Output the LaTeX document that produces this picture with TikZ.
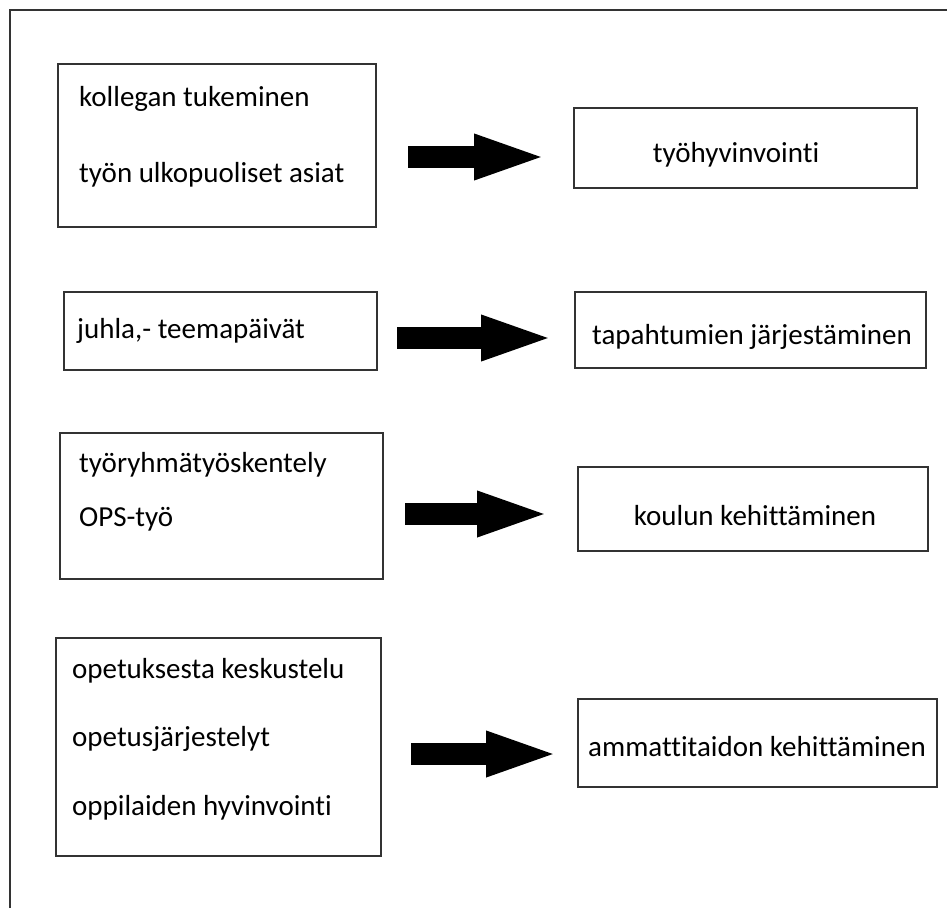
\documentclass[tikz,border=0pt]{standalone}
\usepackage{fontspec}
\setmainfont[Ligatures=NoCommon]{Carlito}
\usetikzlibrary{arrows.meta, positioning}

\begin{document}
\begin{tikzpicture}[x=1pt, y=-1pt,
    box/.style={rectangle, draw=black!80, line width=1.6pt, inner sep=0pt},
    txt/.style={anchor=base west, inner sep=0pt, font=\fontsize{29}{34}\selectfont},
    goaltxt/.style={txt, anchor=base},
    fat/.style={line width=22pt, black, -{Triangle[length=75pt, width=40pt]}}]
\useasboundingbox (0,0) rectangle (947,908);
% outer frame, only top and left edges show
\draw[line width=2pt, black!80] (10,908) -- (10,10) -- (947,10);

% left boxes
\node[box, minimum width=318pt, minimum height=163pt] (l1) at (217,145.5) {};
\node[box, minimum width=313pt, minimum height=78pt] (l2) at (220.5,331) {};
\node[box, minimum width=323pt, minimum height=146pt] (l3) at (221.5,506) {};
\node[box, minimum width=325pt, minimum height=218pt] (l4) at (218.5,747) {};

% right boxes
\node[box, minimum width=343pt, minimum height=80pt] (r1) at (745.5,148) {};
\node[box, minimum width=351pt, minimum height=76pt] (r2) at (750.5,330) {};
\node[box, minimum width=350pt, minimum height=84pt] (r3) at (753,509) {};
\node[box, minimum width=359pt, minimum height=88pt] (r4) at (757.5,743) {};

% texts
\node[txt] (t11) at (79,106) {kollegan tukeminen};
\node[txt] (t12) at (79,182) {työn ulkopuoliset asiat};
\node[txt] (t21) at (77,338) {juhla,- teemapäivät};
\node[txt] (t31) at (79,472) {työryhmätyöskentely};
\node[txt] (t32) at (79,526) {OPS-työ};
\node[txt] (t41) at (72,678) {opetuksesta keskustelu};
\node[txt] (t42) at (72,746) {opetusjärjestelyt};
\node[txt] (t43) at (72,815) {oppilaiden hyvinvointi};

\node[goaltxt] (g1) at (736,162) {työhyvinvointi};
\node[goaltxt] (g2) at (752,344) {tapahtumien järjestäminen};
\node[goaltxt] (g3) at (755,525) {koulun kehittäminen};
\node[goaltxt] (g4) at (757,756) {ammattitaidon kehittäminen};

% fat arrows
\coordinate (a1) at (408,157);  \coordinate (b1) at (549,157);
\coordinate (a2) at (397,338);  \coordinate (b2) at (556,338);
\coordinate (a3) at (405,514);  \coordinate (b3) at (552,514);
\coordinate (a4) at (411,754);  \coordinate (b4) at (561,754);
\foreach \i in {1,2,3,4}
    \draw[fat] (a\i) -- (b\i);
\end{tikzpicture}
\end{document}
